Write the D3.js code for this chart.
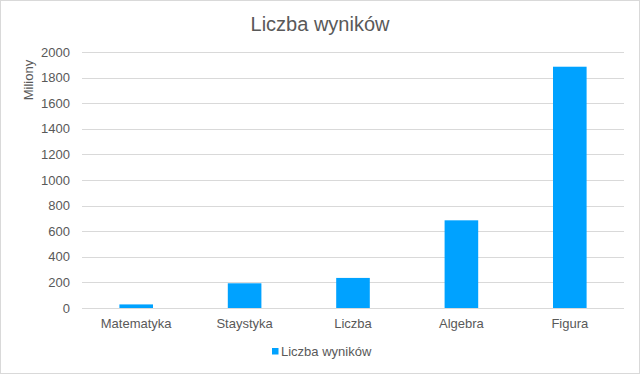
<!DOCTYPE html>
<html>
<head>
<meta charset="utf-8">
<script src="https://cdn.jsdelivr.net/npm/d3@7"></script>
<style>
  body { margin: 0; background: #fff; }
  text { font-family: "Liberation Sans", Arial, sans-serif; fill: #595959; }
</style>
</head>
<body>
<div class="chart"></div>
<script>
const categories = ["Matematyka", "Staystyka", "Liczba", "Algebra", "Figura"];
const values = [28, 193, 235, 685, 1885];
const yTicks = [0, 200, 400, 600, 800, 1000, 1200, 1400, 1600, 1800, 2000];
const seriesName = "Liczba wyników";

const W = 640, H = 374;
const margin = {top: 52, right: 16, bottom: 66, left: 82};

const svg = d3.select(".chart").append("svg")
    .attr("width", W)
    .attr("height", H);

// outer border
svg.append("rect")
    .attr("x", 0.5).attr("y", 0.5)
    .attr("width", W - 1).attr("height", H - 1)
    .attr("fill", "#fff")
    .attr("stroke", "#d9d9d9");

const xScale = d3.scaleBand()
    .domain(categories)
    .range([margin.left, W - margin.right])
    .paddingInner(0.69)
    .paddingOuter(0.345);

const yScale = d3.scaleLinear()
    .domain([0, 2000])
    .range([H - margin.bottom, margin.top]);

// grid lines
svg.append("g")
    .selectAll("line")
    .data(yTicks)
    .join("line")
    .attr("x1", margin.left)
    .attr("x2", W - margin.right)
    .attr("y1", d => Math.round(yScale(d)) + 0.5)
    .attr("y2", d => Math.round(yScale(d)) + 0.5)
    .attr("stroke", "#d9d9d9")
    .attr("stroke-width", 1);

// y axis labels
const yAxis = d3.axisLeft(yScale)
    .tickValues(yTicks)
    .tickFormat(d3.format("d"))
    .tickSize(0)
    .tickPadding(12);

svg.append("g")
    .attr("transform", `translate(${margin.left},0)`)
    .call(yAxis)
    .call(g => g.select(".domain").remove())
    .selectAll("text")
    .attr("font-size", 13)
    .attr("fill", "#595959")
    .style("font-family", "Liberation Sans, Arial, sans-serif");

// bars
svg.append("g")
    .attr("fill", "#00a2ff")
    .selectAll("rect")
    .data(values)
    .join("rect")
    .attr("x", (d, i) => xScale(categories[i]))
    .attr("y", d => yScale(d))
    .attr("width", xScale.bandwidth())
    .attr("height", d => yScale(0) - yScale(d));

// x axis labels
const xAxis = d3.axisBottom(xScale)
    .tickSize(0)
    .tickPadding(11);

svg.append("g")
    .attr("transform", `translate(0,${H - margin.bottom})`)
    .call(xAxis)
    .call(g => g.select(".domain").remove())
    .selectAll("text")
    .attr("font-size", 13)
    .attr("fill", "#595959")
    .style("font-family", "Liberation Sans, Arial, sans-serif");

// title
svg.append("text")
    .attr("x", W / 2)
    .attr("y", 31)
    .attr("text-anchor", "middle")
    .attr("font-size", 20)
    .text(seriesName);

// y label
svg.append("text")
    .attr("transform", "translate(33,80) rotate(-90)")
    .attr("text-anchor", "middle")
    .attr("font-size", 13)
    .text("Miliony");

// legend
const legend = svg.append("g");
legend.append("rect")
    .attr("x", 272).attr("y", 348)
    .attr("width", 6.5).attr("height", 6.5)
    .attr("fill", "#00a2ff");
legend.append("text")
    .attr("x", 281)
    .attr("y", 356)
    .attr("font-size", 13)
    .text(seriesName);
</script>
</body>
</html>
